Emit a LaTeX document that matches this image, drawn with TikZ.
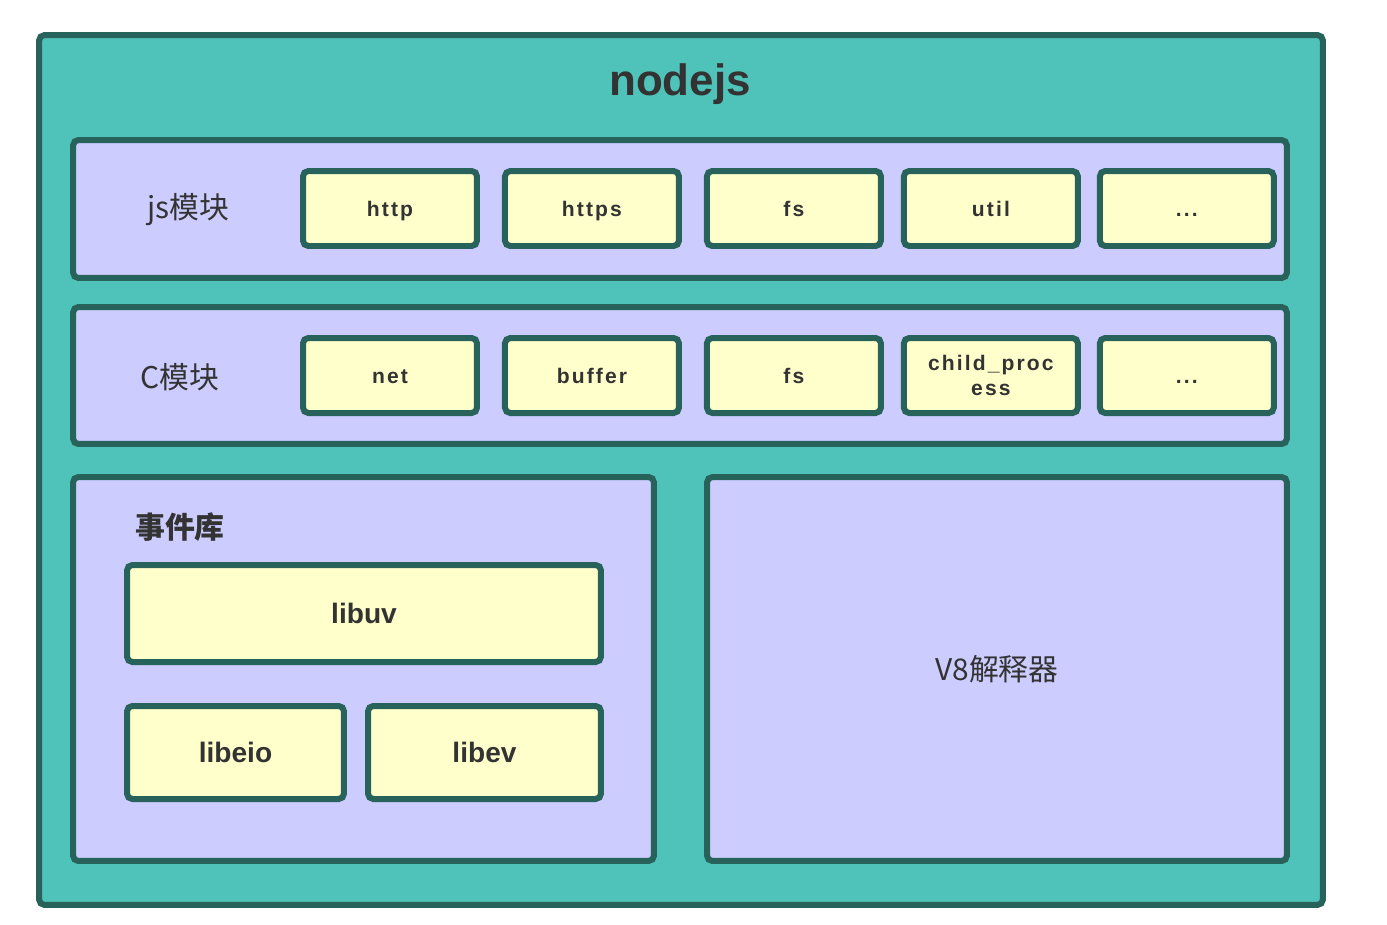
\documentclass[tikz,border=0pt]{standalone}
\usepackage{fontspec}
\setmainfont{Liberation Sans}
\newfontfamily\cjkfont{Noto Sans CJK SC}
\newfontfamily\spacedfont{Liberation Sans}[LetterSpace=10]
\usetikzlibrary{positioning}

\definecolor{edgegreen}{HTML}{28635B}
\definecolor{tealfill}{HTML}{4FC3B9}
\definecolor{lavender}{HTML}{CCCCFF}
\definecolor{paleyellow}{HTML}{FFFFCC}
\definecolor{inkgray}{HTML}{333333}

\begin{document}
\begin{tikzpicture}[x=0.02cm, y=-0.02cm]
	\tikzset{
	  basic/.style  = {draw=edgegreen, line width=0.12cm, rectangle,
	                   rounded corners=3pt, text=inkgray, inner sep=0pt},
	  frame/.style  = {basic, fill=tealfill},
	  layer/.style  = {basic, fill=lavender},
	  module/.style = {basic, fill=paleyellow, minimum width=3.48cm,
	                   minimum height=1.5cm, align=center,
	                   text height=2.2ex, text depth=0.5ex,
	                   font=\spacedfont\bfseries\fontsize{12}{14}\selectfont},
	  lib/.style    = {basic, fill=paleyellow,
	                   font=\bfseries\fontsize{16}{19}\selectfont},
	  tag/.style    = {text=inkgray, font=\cjkfont\fontsize{17}{20}\selectfont}
	}

	\useasboundingbox (0,0) rectangle (1387,924);

	% outer frame
	\node[frame, minimum width=25.68cm, minimum height=17.4cm] (nodejs) at (681,470) {};
	\node[text=inkgray, font=\bfseries\fontsize{25}{30}\selectfont] (title) at (680,84) {nodejs};

	% js modules
	\node[layer, minimum width=24.28cm, minimum height=2.76cm] (jsrow) at (680,209) {};
	\node[tag] (jslabel) at (188,210) {js模块};
	\node[module] (http) at (390,208.5) {http};
	\node[module, right=0.44cm of http] (https) {https};
	\node[module, right=0.44cm of https] (jsfs) {fs};
	\node[module, right=0.34cm of jsfs] (util) {util};
	\node[module, right=0.32cm of util] (jsmore) {...};

	% C modules
	\node[layer, minimum width=24.28cm, minimum height=2.74cm] (crow) at (680,375.5) {};
	\node[tag] (clabel) at (180,377) {C模块};
	\node[module] (net) at (390,375.5) {net};
	\node[module, right=0.44cm of net] (buffer) {buffer};
	\node[module, right=0.44cm of buffer] (cfs) {fs};
	\node[module, right=0.34cm of cfs, text height={}, text depth={}] (child) {child\_proc\\ess};
	\node[module, right=0.32cm of child] (cmore) {...};

	% event library
	\node[layer, minimum width=11.62cm, minimum height=7.68cm] (events) at (363.5,669) {};
	\node[tag, font=\cjkfont\bfseries\fontsize{17}{20}\selectfont] (evlabel) at (180,527) {事件库};
	\node[lib, minimum width=9.48cm, minimum height=1.94cm] (libuv) at (364,613.5) {libuv};
	\node[lib, minimum width=4.34cm, minimum height=1.86cm] (libeio) at (235.5,752.5) {libeio};
	\node[lib, minimum width=4.66cm, minimum height=1.86cm] (libev) at (484.5,752.5) {libev};

	% V8
	\node[layer, minimum width=11.6cm, minimum height=7.68cm] (v8) at (997,669) {};
	\node[tag] (v8label) at (v8) {V8解释器};
\end{tikzpicture}
\end{document}
